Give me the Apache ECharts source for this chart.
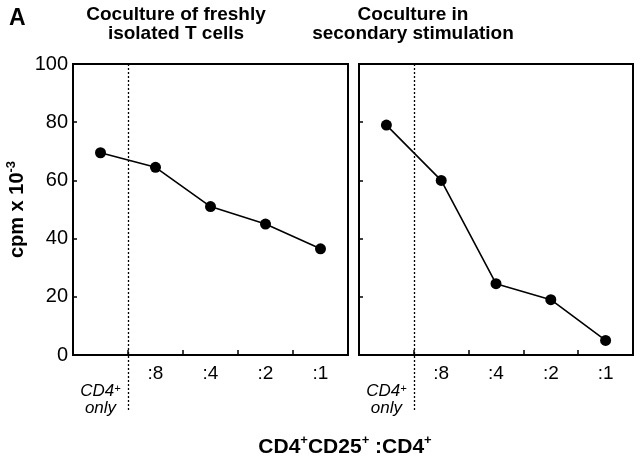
<!DOCTYPE html>
<html>
<head>
<meta charset="utf-8">
<script src="https://cdn.jsdelivr.net/npm/echarts@6/dist/echarts.min.js"></script>
<style>
  html, body { margin: 0; padding: 0; background: #fff; }
  #chart { width: 640px; height: 461px; }
</style>
</head>
<body>
<div id="chart"></div>
<script>
  // categories along the x axis (ratio CD4+CD25+ : CD4+)
  const categories = ['CD4+ only', ':8', ':4', ':2', ':1']
  // cpm x 10^-3
  const freshValues = [69.5, 64.5, 51, 45, 36.5]
  const secondaryValues = [79, 60, 24.5, 19, 5]
  const yMin = 0
  const yMax = 100
  const yStep = 20

  const sans = "'Liberation Sans', Arial, sans-serif"

  const chart = echarts.init(document.getElementById('chart'))

  function xAxis(gridIndex) {
    return {
      type: 'category',
      gridIndex,
      z: 5,
      data: categories,
      axisLine: { lineStyle: { color: '#000', width: 2 } },
      axisTick: { show: true, inside: true, length: 5, interval: 0, lineStyle: { color: '#000', width: 1.5 } },
      axisLabel: {
        interval: 0,
        hideOverlap: false,
        margin: 9,
        color: '#000',
        fontFamily: sans,
        fontSize: 19,
        formatter: (v) => v === categories[0] ? '{sp|}\n{it|CD4}{itsup|+}\n{it|only}' : v,
        rich: {
          sp: { height: 19, lineHeight: 19 },
          it: { fontStyle: 'italic', fontSize: 17, fontFamily: sans, color: '#000', lineHeight: 17 },
          itsup: { fontStyle: 'italic', fontSize: 11, fontFamily: sans, color: '#000', verticalAlign: 'top', lineHeight: 17 },
        },
      },
      splitLine: { show: false },
    }
  }

  function yAxis(gridIndex, showLabels) {
    const ax = {
      type: 'value',
      gridIndex,
      z: 5,
      min: yMin,
      max: yMax,
      interval: yStep,
      axisLine: { show: true, lineStyle: { color: '#000', width: 2 } },
      axisTick: { show: true, inside: true, length: 4, lineStyle: { color: '#000', width: 1.5 } },
      axisLabel: { show: showLabels, color: '#000', fontFamily: sans, fontSize: 20, margin: 5 },
      splitLine: { show: false },
    }
    if (showLabels) {
      ax.name = '{b|cpm x 10}{s|-3}'
      ax.nameLocation = 'middle'
      ax.nameGap = 44
      ax.nameRotate = 90
      ax.nameTextStyle = {
        rich: {
          b: { fontFamily: sans, fontWeight: 'bold', fontSize: 20, color: '#000', lineHeight: 24 },
          s: { fontFamily: sans, fontWeight: 'bold', fontSize: 13, color: '#000', verticalAlign: 'top', lineHeight: 24 },
        },
      }
    }
    return ax
  }

  function series(idx, values) {
    return {
      type: 'line',
      xAxisIndex: idx,
      yAxisIndex: idx,
      data: values,
      symbol: 'circle',
      symbolSize: 11,
      lineStyle: { color: '#000', width: 1.6 },
      itemStyle: { color: '#000' },
      z: 6,
      animation: false,
    }
  }

  const titleStyle = { fontFamily: sans, fontWeight: 'bold', fontSize: 19, lineHeight: 19, color: '#000' }

  chart.setOption({
    backgroundColor: '#fff',
    animation: false,
    grid: [
      { left: 73, right: 292, top: 64, bottom: 106, show: true, borderColor: '#000', borderWidth: 2 },
      { left: 359, right: 7, top: 64, bottom: 106, show: true, borderColor: '#000', borderWidth: 2 },
    ],
    title: [
      { text: 'A', left: 4, top: 2, textStyle: { fontFamily: sans, fontWeight: 'bold', fontSize: 23, color: '#000' } },
      { text: 'Coculture of freshly\nisolated T cells', left: 171, top: 0, textAlign: 'center', textStyle: titleStyle },
      { text: 'Coculture in\nsecondary stimulation', left: 408, top: 0, textAlign: 'center', textStyle: titleStyle },
      {
        text: '{b|CD4}{s|+}{b|CD25}{s|+}{b| :CD4}{s|+}',
        left: 340, top: 429, textAlign: 'center',
        textStyle: {
          rich: {
            b: { fontFamily: sans, fontWeight: 'bold', fontSize: 21, color: '#000', lineHeight: 26 },
            s: { fontFamily: sans, fontWeight: 'bold', fontSize: 13, color: '#000', verticalAlign: 'top', lineHeight: 26 },
          },
        },
      },
    ],
    xAxis: [xAxis(0), xAxis(1)],
    yAxis: [yAxis(0, true), yAxis(1, false)],
    series: [series(0, freshValues), series(1, secondaryValues)],
  })

  // dotted separator between "CD4+ only" and the ratio categories, extending below the axis
  function separator(idx) {
    const a = chart.convertToPixel({ xAxisIndex: idx }, categories[0])
    const b = chart.convertToPixel({ xAxisIndex: idx }, categories[1])
    const top = chart.convertToPixel({ yAxisIndex: idx }, yMax)
    const bottom = chart.convertToPixel({ yAxisIndex: idx }, yMin)
    const x = Math.round((a + b) / 2) + 0.5
    return {
      type: 'line',
      shape: { x1: x, y1: top, x2: x, y2: bottom + 56 },
      style: { stroke: '#000', lineWidth: 1.3, lineDash: [2, 2] },
      z: 10,
    }
  }

  chart.setOption({ graphic: [separator(0), separator(1)] })
</script>
</body>
</html>
